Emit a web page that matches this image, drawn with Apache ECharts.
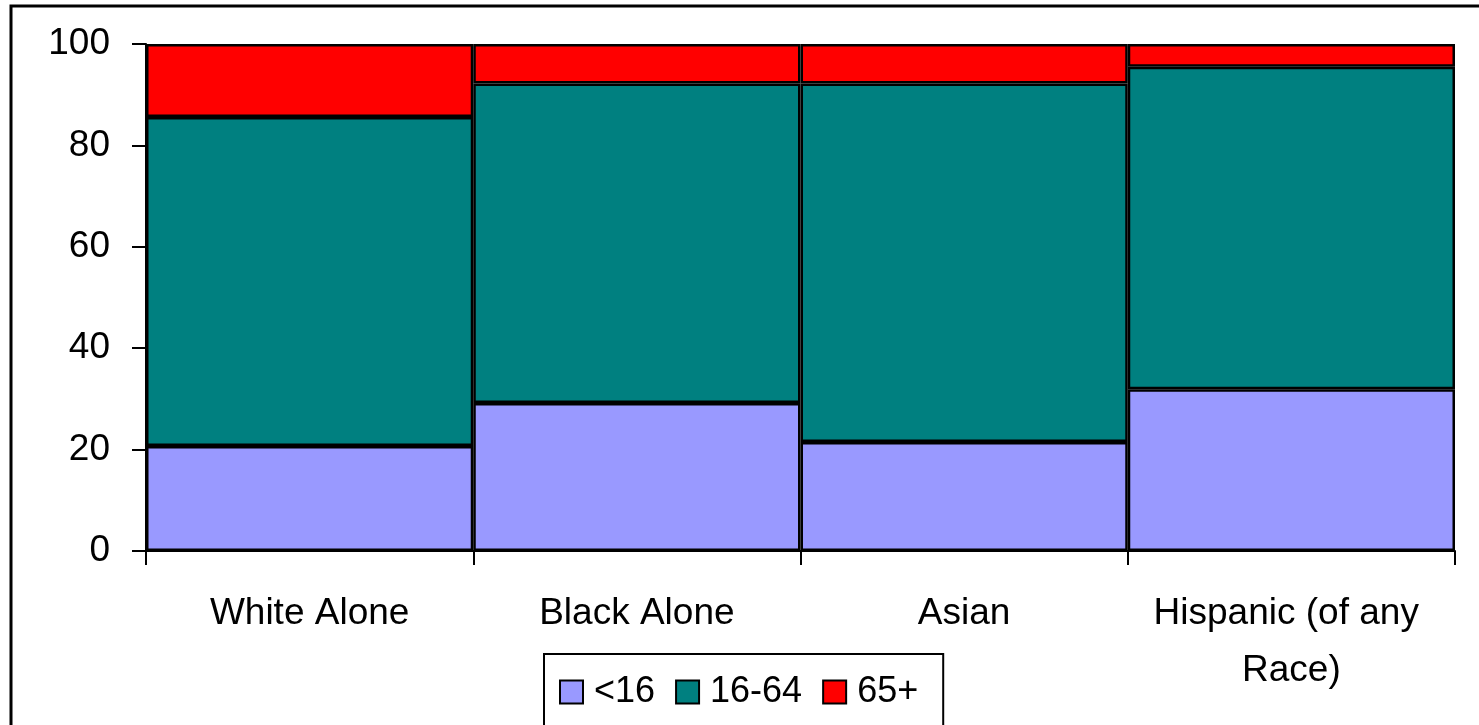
<!DOCTYPE html>
<html>
<head>
<meta charset="utf-8">
<script src="https://cdn.jsdelivr.net/npm/echarts@6/dist/echarts.min.js"></script>
<style>
  html, body { margin: 0; padding: 0; background: #fff; }
  #chart { width: 1479px; height: 725px; }
</style>
</head>
<body>
<div id="chart"></div>
<script>
// Population share by age group within each race / ethnicity (percent)
const categories = ['White Alone', 'Black Alone', 'Asian', 'Hispanic (of any Race)'];
const under16 = [20.7, 29.2, 21.5, 31.9];
const age16to64 = [64.9, 63.0, 70.7, 63.6];
const age65plus = [14.4, 7.8, 7.8, 4.5];
const yTicks = { min: 0, max: 100, interval: 20 };

const font = 'Liberation Sans, Arial, sans-serif';
const chart = echarts.init(document.getElementById('chart'));

function stackSeries(name, data, color) {
  return {
    name: name,
    type: 'bar',
    stack: 'total',
    data: data,
    barCategoryGap: 0,
    itemStyle: { color: color, borderColor: '#000', borderWidth: 2.5 },
    emphasis: { disabled: true }
  };
}

chart.setOption({
  animation: false,
  backgroundColor: '#fff',
  graphic: [{
    type: 'rect',
    shape: { x: 11, y: 6, width: 1520, height: 800 },
    style: { fill: 'none', stroke: '#000', lineWidth: 3 },
    z: -1
  }],
  grid: { left: 146, right: 24, top: 44, bottom: 174 },
  xAxis: {
    type: 'category',
    data: categories,
    axisLine: { lineStyle: { color: '#000', width: 2 } },
    axisTick: { show: true, interval: 0, length: 14, lineStyle: { color: '#000', width: 2 } },
    axisLabel: {
      interval: 0,
      color: '#000', fontFamily: font, fontSize: 37, margin: 34,
      lineHeight: 57, width: 320, overflow: 'break'
    },
    splitLine: { show: false }
  },
  yAxis: {
    type: 'value',
    min: yTicks.min, max: yTicks.max, interval: yTicks.interval,
    axisLine: { show: true, lineStyle: { color: '#000', width: 2 } },
    axisTick: { show: true, length: 14, lineStyle: { color: '#000', width: 2 } },
    axisLabel: { color: '#000', fontFamily: font, fontSize: 37, margin: 36 },
    splitLine: { show: false }
  },
  legend: {
    left: 544, top: 654,
    padding: [20, 25, 40, 15],
    borderColor: '#000', borderWidth: 2,
    itemWidth: 23, itemHeight: 23, itemGap: 20,
    icon: 'rect',
    itemStyle: { borderColor: '#000', borderWidth: 2 },
    textStyle: { color: '#000', fontFamily: font, fontSize: 36, padding: [0, 0, 0, 6] },
    data: ['<16', '16-64', '65+']
  },
  series: [
    stackSeries('<16', under16, '#9999FF'),
    stackSeries('16-64', age16to64, '#008080'),
    stackSeries('65+', age65plus, '#FF0000')
  ]
});
</script>
</body>
</html>
